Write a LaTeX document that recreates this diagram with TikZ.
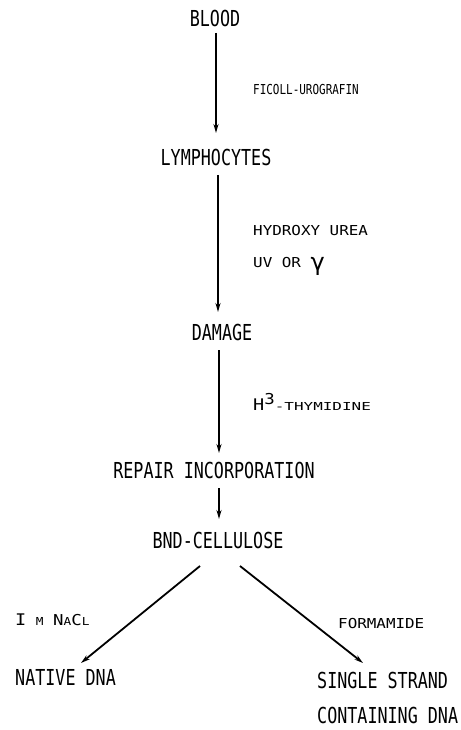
\documentclass[tikz,border=0pt]{standalone}
\usepackage{fontspec}
\usetikzlibrary{arrows.meta}
\newfontfamily\bigf{DejaVu Sans Mono}[FakeStretch=0.76]
\newfontfamily\smf{DejaVu Sans Mono}[FakeStretch=1.16]
\newfontfamily\widef{DejaVu Sans Mono}[FakeStretch=1.45]
\newfontfamily\ficf{DejaVu Sans Mono}[FakeStretch=0.8]
\newfontfamily\gamf{DejaVu Sans}
\tikzset{
  big/.style={font=\bigf\fontsize{22}{24}\selectfont, inner sep=0pt},
  lab/.style={font=\smf\fontsize{13.7}{15}\selectfont, inner sep=0pt, anchor=base west},
  flow/.style={line width=1.8pt, -{Stealth[length=9pt,width=5pt]}}
}
\begin{document}
\begin{tikzpicture}[x=1pt,y=-1pt]
\useasboundingbox (0,0) rectangle (460,730);
% main nodes (anchor base)
\node[big, anchor=base] (blood) at (215,27) {BLOOD};
\node[big, anchor=base] (lymph) at (216,165) {LYMPHOCYTES};
\node[big, anchor=base] (dam) at (222,340) {DAMAGE};
\node[big, anchor=base] (rep) at (214,478) {REPAIR INCORPORATION};
\node[big, anchor=base] (bnd) at (218,548) {BND-CELLULOSE};
\node[big, anchor=base west] (nat) at (15,685) {NATIVE DNA};
\node[big, anchor=base west] (ss) at (317,688) {SINGLE STRAND};
\node[big, anchor=base west] (cont) at (317,723) {CONTAINING DNA};
% helper coordinates for connector ends
\coordinate (a1s) at (216,33);  \coordinate (a1e) at (216,133);
\coordinate (a2s) at (218,175); \coordinate (a2e) at (218,312);
\coordinate (a3s) at (219,350); \coordinate (a3e) at (219,453);
\coordinate (a4s) at (219,488); \coordinate (a4e) at (219,519);
\coordinate (ls) at (200,566);  \coordinate (le) at (81,663);
\coordinate (rs) at (240,566);  \coordinate (re) at (363,663);
\draw[flow] (a1s) -- (a1e);
\draw[flow] (a2s) -- (a2e);
\draw[flow] (a3s) -- (a3e);
\draw[flow] (a4s) -- (a4e);
\draw[flow] (ls) -- (le);
\draw[flow] (rs) -- (re);
% side labels
\node[lab, font=\ficf\fontsize{13.7}{15}\selectfont] (fic) at (253,95) {FICOLL-UROGRAFIN};
\node[lab] (hyd) at (253,235) {HYDROXY UREA};
\node[lab] (uv) at (253,267) {UV OR \raisebox{-3pt}{\gamf\fontsize{24}{26}\selectfont γ}};
\node[lab] (thy) at (253,410) {{\fontsize{16}{18}\selectfont H}\raisebox{6pt}{\fontsize{15}{16}\selectfont 3}{\widef\fontsize{11}{13}\selectfont -THYMIDINE}};
\node[lab] (nacl) at (15,625) {{\fontsize{16}{18}\selectfont I} {\fontsize{11}{13}\selectfont M} {\fontsize{15}{17}\selectfont N}{\fontsize{11}{13}\selectfont A}{\fontsize{15}{17}\selectfont C}{\fontsize{11}{13}\selectfont L}};
\node[lab] (form) at (338,628) {FORMAMIDE};
\end{tikzpicture}
\end{document}
